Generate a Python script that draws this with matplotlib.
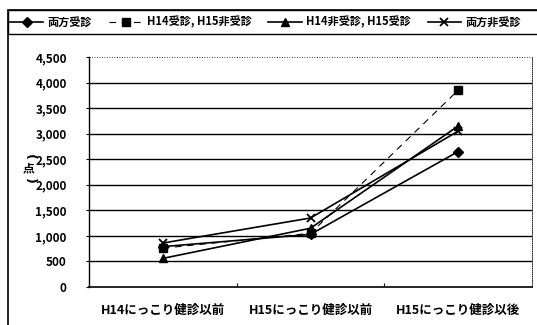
import matplotlib
matplotlib.use("Agg")
import matplotlib.pyplot as plt
from matplotlib.patches import Rectangle
from matplotlib.ticker import FuncFormatter

plt.rcParams['font.family'] = ['Noto Sans CJK JP', 'DejaVu Sans']
plt.rcParams['font.weight'] = 'bold'

# 受診区分ごとの平均点数
categories = ["H14にっこり健診以前", "H15にっこり健診以前", "H15にっこり健診以後"]
both_visit = [790, 1030, 2650]
h14_only = [760, 1050, 3850]
h15_only = [560, 1150, 3150]
no_visit = [860, 1350, 3050]
series_names = ["両方受診", "H14受診, H15非受診", "H14非受診, H15受診", "両方非受診"]
y_ticks = [0, 500, 1000, 1500, 2000, 2500, 3000, 3500, 4000, 4500]

W, H = 537, 325
fig = plt.figure(figsize=(W / 100, H / 100), dpi=100)
ax = fig.add_axes([89 / W, 1 - 287 / H, (532 - 89) / W, (287 - 57) / H])

x = range(len(categories))
ax.plot(x, both_visit, color='black', lw=1.2, marker='D', ms=5, label=series_names[0])
ax.plot(x, h14_only, color='black', lw=0.8, ls=(0, (6, 5)), marker='s', ms=5.5,
        label=series_names[1])
ax.plot(x, h15_only, color='black', lw=1.2, marker='^', ms=6, label=series_names[2])
ax.plot(x, no_visit, color='black', lw=1.2, marker='x', ms=6, mew=1.3,
        label=series_names[3])

ax.set_xlim(-0.5, len(categories) - 0.5)
ax.set_ylim(0, 4500)
ax.set_yticks(y_ticks)
ax.yaxis.set_major_formatter(FuncFormatter(lambda v, p: f"{int(v):,}"))
ax.set_xticks([0.5, 1.5])
ax.set_xticklabels([])
ax.set_xticks(list(x), minor=True)
ax.set_xticklabels(categories, minor=True, fontsize=9, fontweight='bold')
ax.tick_params(axis='x', which='major', direction='in', length=3, width=0.8)
ax.tick_params(axis='x', which='minor', length=0, pad=12)
ax.tick_params(axis='y', direction='out', length=2, width=0.8, labelsize=8.5, pad=14)

for v in y_ticks[1:-1]:
    ax.axhline(v, color='black', lw=1.0, zorder=0)
ax.axhline(4500, color='black', lw=0.6, ls=(0, (1, 2)), zorder=0)

ax.spines['top'].set_visible(False)
ax.spines['right'].set_linestyle((0, (1, 1.5)))
ax.spines['right'].set_linewidth(0.6)
ax.spines['left'].set_linewidth(1.0)
ax.spines['bottom'].set_linewidth(1.2)

# 縦書きの軸ラベル（点）：括弧は横倒しにする
yl = 1 - 169 / H
fig.text(29 / W, yl + 12 / H, "(", rotation=270, rotation_mode='anchor',
         ha='center', va='center', fontsize=9, family='DejaVu Sans')
fig.text(29 / W, yl, "点", ha='center', va='center', fontsize=8.5)
fig.text(29 / W, yl - 12 / H, ")", rotation=270, rotation_mode='anchor',
         ha='center', va='center', fontsize=9, family='DejaVu Sans')

# 外枠と凡例枠
fig.patches.append(Rectangle((8 / W, -0.2), 1.2, 1 - 10 / H + 0.2,
                             transform=fig.transFigure, fill=False,
                             edgecolor='black', lw=1.2, clip_on=False))
fig.patches.append(Rectangle((8 / W, 1 - 34 / H), 1.2, 24 / H,
                             transform=fig.transFigure, fill=False,
                             edgecolor='black', lw=1.0, clip_on=False))

leg = fig.legend(loc='center left', ncol=4, bbox_to_anchor=(10 / W, 1 - 22 / H),
                 frameon=False, handlelength=3.0, handletextpad=0.4,
                 columnspacing=1.5, borderpad=0, borderaxespad=0,
                 prop={'size': 8, 'weight': 'bold'})

fig.savefig("out.png", dpi=100)
